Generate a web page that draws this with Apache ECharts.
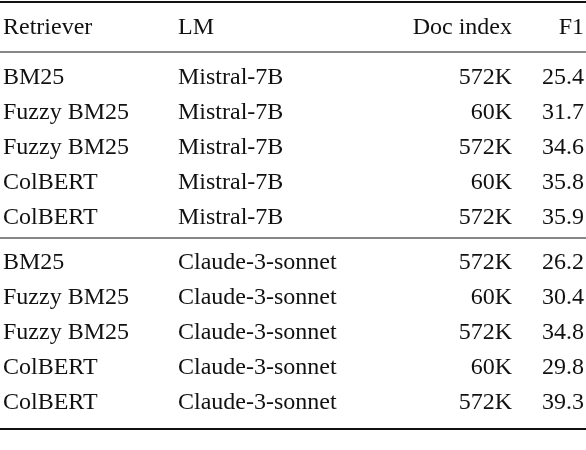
<!DOCTYPE html>
<html>
<head>
<meta charset="UTF-8">
<script src="https://cdn.jsdelivr.net/npm/echarts@6/dist/echarts.min.js"></script>
<style>html,body{margin:0;background:#fff}#c{width:586px;height:450px}</style>
</head>
<body>
<div id="c"></div>
<script>
var headers = ['Retriever', 'LM', 'Doc index', 'F1'];
var retrievers = ['BM25', 'Fuzzy BM25', 'Fuzzy BM25', 'ColBERT', 'ColBERT',
                  'BM25', 'Fuzzy BM25', 'Fuzzy BM25', 'ColBERT', 'ColBERT'];
var lms = ['Mistral-7B', 'Mistral-7B', 'Mistral-7B', 'Mistral-7B', 'Mistral-7B',
           'Claude-3-sonnet', 'Claude-3-sonnet', 'Claude-3-sonnet', 'Claude-3-sonnet', 'Claude-3-sonnet'];
var docIndex = ['572K', '60K', '572K', '60K', '572K', '572K', '60K', '572K', '60K', '572K'];
var f1 = [25.4, 31.7, 34.6, 35.8, 35.9, 26.2, 30.4, 34.8, 29.8, 39.3];

var chart = echarts.init(document.getElementById('c'));
var g = [];
function txt(s, x, y, align) {
    g.push({type: 'text', x: x, y: y, style: {text: s, fontFamily: 'Liberation Serif', fontSize: 24,
        fill: '#111', align: align, verticalAlign: 'middle'}});
}
function rule(y, w) {
    g.push({type: 'line', shape: {x1: 0, y1: y, x2: 586, y2: y}, style: {stroke: '#111', lineWidth: w}});
}
var colX = [3, 178, 512, 584];
var colAlign = ['left', 'left', 'right', 'right'];
headers.forEach(function (h, i) { txt(h, colX[i], 28, colAlign[i]); });
rule(2, 2); rule(52, 1); rule(238, 1); rule(429, 2);
for (var i = 0; i < retrievers.length; i++) {
    var y = (i < 5 ? 78 : 263) + (i % 5) * 35;
    txt(retrievers[i], colX[0], y, 'left');
    txt(lms[i], colX[1], y, 'left');
    txt(docIndex[i], colX[2], y, 'right');
    txt(f1[i].toFixed(1), colX[3], y, 'right');
}
chart.setOption({animation: false, graphic: g});
</script>
</body>
</html>
